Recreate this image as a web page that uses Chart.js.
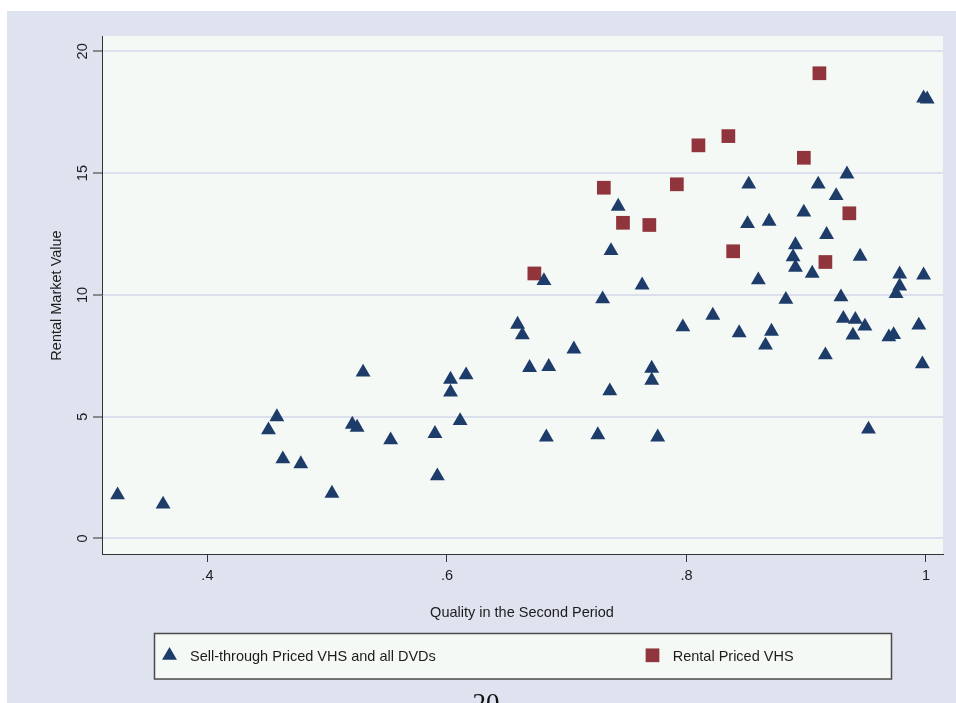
<!DOCTYPE html>
<html>
<head>
<meta charset="utf-8">
<script src="https://cdn.jsdelivr.net/npm/chart.js@4.4.1/dist/chart.umd.min.js"></script>
<style>
  html, body { margin: 0; padding: 0; background: #ffffff; }
  canvas { display: block; }
</style>
</head>
<body>
<canvas id="chart" width="956" height="703"></canvas>
<script>
// Sell-through priced VHS and all DVDs: quality in second period vs rental market value
const sellThroughQuality = [
  0.325, 0.363, 0.451, 0.458, 0.463, 0.478, 0.504, 0.521, 0.525, 0.530,
  0.553, 0.590, 0.592, 0.603, 0.603, 0.611, 0.616, 0.659, 0.663, 0.669,
  0.681, 0.683, 0.685, 0.706, 0.726, 0.730, 0.736, 0.737, 0.743, 0.763,
  0.771, 0.771, 0.776, 0.797, 0.822, 0.844, 0.851, 0.852, 0.860, 0.866,
  0.869, 0.871, 0.883, 0.889, 0.891, 0.891, 0.898, 0.905, 0.910, 0.916,
  0.917, 0.925, 0.929, 0.931, 0.934, 0.939, 0.941, 0.945, 0.949, 0.952,
  0.969, 0.973, 0.975, 0.978, 0.978, 0.994, 0.997, 0.998, 0.998, 1.001
];
const sellThroughValue = [
  1.78, 1.40, 4.45, 4.99, 3.26, 3.06, 1.85, 4.68, 4.56, 6.82,
  4.04, 4.30, 2.56, 6.00, 6.53, 4.83, 6.71, 8.79, 8.35, 7.01,
  10.58, 4.16, 7.05, 7.77, 4.25, 9.83, 6.05, 11.81, 13.63, 10.40,
  6.49, 6.98, 4.16, 8.68, 9.16, 8.44, 12.92, 14.54, 10.61, 7.93,
  13.02, 8.50, 9.81, 11.56, 11.13, 12.05, 13.39, 10.88, 14.54, 7.53,
  12.47, 14.07, 9.91, 9.03, 14.96, 8.34, 8.99, 11.58, 8.71, 4.48,
  8.27, 8.36, 10.05, 10.36, 10.85, 8.75, 7.16, 10.81, 18.08, 18.04
];

// Rental priced VHS
const rentalQuality = [0.673, 0.731, 0.747, 0.769, 0.792, 0.810, 0.835, 0.839, 0.898, 0.911, 0.916, 0.936];
const rentalValue   = [10.88, 14.40, 12.96, 12.87, 14.54, 16.14, 16.52, 11.79, 15.63, 19.10, 11.35, 13.35];

const seriesNames = ['Sell-through Priced VHS and all DVDs', 'Rental Priced VHS'];
const xTitle = 'Quality in the Second Period';
const yTitle = 'Rental Market Value';

const xTicks = [0.4, 0.6, 0.8, 1];
const xTickLabels = ['.4', '.6', '.8', '1'];
const yTicks = [0, 5, 10, 15, 20];
const yTickLabels = ['0', '5', '10', '15', '20'];

const pageNumber = '20';

// ---- styling ----
const NAVY = '#1d3c6a';
const MAROON = '#8f353b';
const OUTER_BG = '#dfe2ef';
const PLOT_BG = '#f5f9f6';
const GRID = '#dbdfee';
const AXIS = '#333333';
const TEXT = '#1c1c1c';
const SANS = "'Liberation Sans', Arial, Helvetica, sans-serif";
const LABEL_FONT = '14.5px ' + SANS;
const TRI_R = 8.6;
const SQ_R = 9.7;

function zip(xs, ys) { return xs.map((x, i) => ({ x: x, y: ys[i] })); }

function drawTriangle(ctx, x, y, r) {
  ctx.beginPath();
  ctx.moveTo(x, y - r);
  ctx.lineTo(x + 0.8660254 * r, y + 0.5 * r);
  ctx.lineTo(x - 0.8660254 * r, y + 0.5 * r);
  ctx.closePath();
  ctx.fill();
}
function drawSquare(ctx, x, y, r) {
  const h = Math.SQRT1_2 * r;
  ctx.fillRect(x - h, y - h, 2 * h, 2 * h);
}

// Backgrounds, rotated y labels, axis titles and the boxed legend
const framePlugin = {
  id: 'frame',
  beforeDraw(chart) {
    const { ctx, chartArea: a } = chart;
    ctx.save();
    ctx.fillStyle = '#ffffff';
    ctx.fillRect(0, 0, chart.width, chart.height);
    ctx.fillStyle = OUTER_BG;
    ctx.fillRect(7, 11, chart.width - 7, chart.height - 11);
    ctx.fillStyle = PLOT_BG;
    ctx.fillRect(a.left, a.top, a.right - a.left, a.bottom - a.top);
    ctx.restore();
  },
  afterDraw(chart) {
    const { ctx } = chart;
    const xs = chart.scales.x, ys = chart.scales.y;
    ctx.save();
    ctx.fillStyle = TEXT;
    ctx.font = LABEL_FONT;

    // x tick labels
    ctx.textAlign = 'center';
    ctx.textBaseline = 'alphabetic';
    xTicks.forEach((v, i) => {
      ctx.fillText(xTickLabels[i], xs.getPixelForValue(v), 579.5);
    });

    // y tick labels, vertical
    yTicks.forEach((v, i) => {
      ctx.save();
      ctx.translate(87.3, ys.getPixelForValue(v));
      ctx.rotate(-Math.PI / 2);
      ctx.textAlign = 'center';
      ctx.fillText(yTickLabels[i], 0, 0);
      ctx.restore();
    });

    // axis titles
    ctx.textAlign = 'center';
    ctx.fillText(xTitle, 522, 616.5);
    ctx.save();
    ctx.translate(60.7, 295.5);
    ctx.rotate(-Math.PI / 2);
    ctx.fillText(yTitle, 0, 0);
    ctx.restore();

    // legend box
    ctx.fillStyle = PLOT_BG;
    ctx.fillRect(154, 633, 737, 46);
    ctx.strokeStyle = '#4a4a4a';
    ctx.lineWidth = 1.5;
    ctx.strokeRect(154.5, 633.5, 737, 45.5);

    ctx.fillStyle = NAVY;
    drawTriangle(ctx, 169.5, 655.5, TRI_R);
    ctx.fillStyle = MAROON;
    drawSquare(ctx, 652.5, 655.3, SQ_R);

    ctx.fillStyle = TEXT;
    ctx.textAlign = 'left';
    ctx.fillText(seriesNames[0], 190, 661);
    ctx.fillText(seriesNames[1], 672.7, 661);

    // page number at the foot
    ctx.fillStyle = '#111111';
    ctx.textAlign = 'center';
    ctx.font = "27px 'Liberation Serif', 'Times New Roman', serif";
    ctx.fillText(pageNumber, 486, 711.6);
    ctx.restore();
  }
};

new Chart(document.getElementById('chart'), {
  type: 'scatter',
  data: {
    datasets: [
      {
        label: seriesNames[0],
        data: zip(sellThroughQuality, sellThroughValue),
        pointStyle: 'triangle',
        pointRadius: TRI_R,
        pointHoverRadius: TRI_R,
        backgroundColor: NAVY,
        borderColor: NAVY,
        borderWidth: 0
      },
      {
        label: seriesNames[1],
        data: zip(rentalQuality, rentalValue),
        pointStyle: 'rect',
        pointRadius: SQ_R,
        pointHoverRadius: SQ_R,
        backgroundColor: MAROON,
        borderColor: MAROON,
        borderWidth: 0
      }
    ]
  },
  options: {
    responsive: false,
    animation: false,
    devicePixelRatio: 1,
    events: [],
    layout: { padding: { left: 0, top: 36, right: 13, bottom: 0 } },
    plugins: {
      legend: { display: false },
      tooltip: { enabled: false },
      title: { display: false }
    },
    scales: {
      x: {
        type: 'linear',
        min: 0.312,
        max: 1.0142,
        afterBuildTicks(scale) { scale.ticks = xTicks.map(v => ({ value: v })); },
        afterFit(scale) { scale.height = 149; },
        ticks: { display: false },
        grid: {
          drawOnChartArea: false,
          drawTicks: true,
          tickLength: 8,
          tickColor: AXIS,
          tickWidth: 1
        },
        border: { display: true, color: AXIS, width: 1 }
      },
      y: {
        type: 'linear',
        min: -0.64,
        max: 20.63,
        afterBuildTicks(scale) { scale.ticks = yTicks.map(v => ({ value: v })); },
        afterFit(scale) { scale.width = 102; },
        ticks: { display: false },
        grid: {
          color: GRID,
          lineWidth: 2,
          drawTicks: true,
          tickLength: 9,
          tickColor: AXIS,
          tickWidth: 1
        },
        border: { display: true, color: AXIS, width: 1 }
      }
    }
  },
  plugins: [framePlugin]
});
</script>
</body>
</html>
